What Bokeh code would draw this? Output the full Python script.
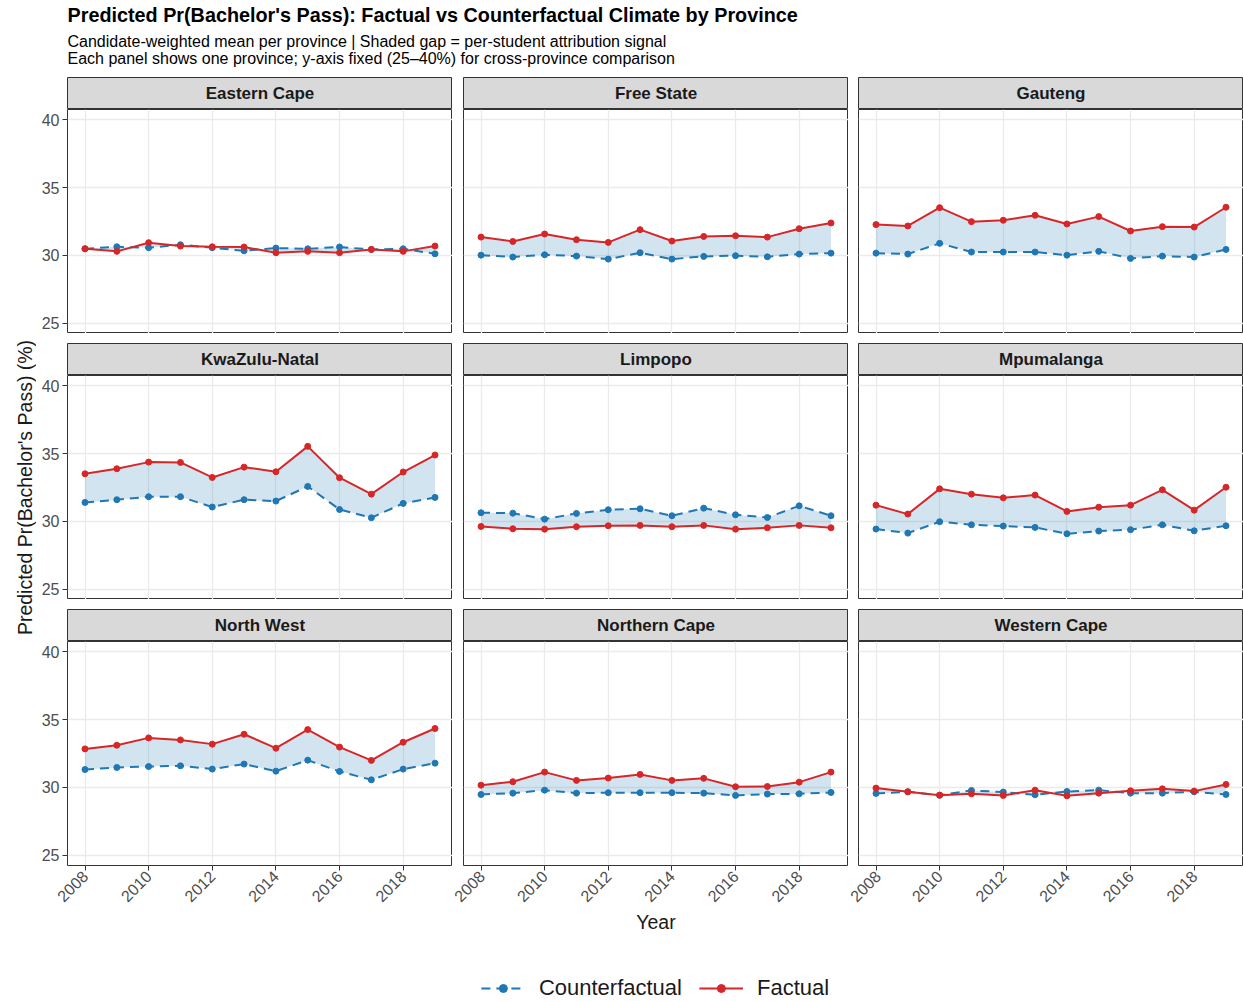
import math

from bokeh.plotting import figure
from bokeh.layouts import column, row
from bokeh.models import (Range1d, FixedTicker, Label, Legend, LegendItem,
                          ColumnDataSource, Spacer)
from bokeh.embed import file_html
from bokeh.resources import INLINE

# ---------------------------------------------------------------- data
years = [2008, 2009, 2010, 2011, 2012, 2013, 2014, 2015, 2016, 2017, 2018, 2019]

provinces = ["Eastern Cape", "Free State", "Gauteng",
             "KwaZulu-Natal", "Limpopo", "Mpumalanga",
             "North West", "Northern Cape", "Western Cape"]

ec_factual = [30.49, 30.30, 30.94, 30.69, 30.64, 30.62, 30.20, 30.30, 30.20, 30.44, 30.30, 30.69]
ec_counter = [30.49, 30.64, 30.57, 30.79, 30.57, 30.34, 30.54, 30.49, 30.62, 30.44, 30.49, 30.12]

fs_factual = [31.35, 31.03, 31.58, 31.16, 30.96, 31.90, 31.06, 31.40, 31.45, 31.35, 31.97, 32.39]
fs_counter = [30.02, 29.88, 30.05, 29.95, 29.73, 30.20, 29.73, 29.93, 29.98, 29.90, 30.10, 30.17]

gp_factual = [32.27, 32.17, 33.52, 32.49, 32.59, 32.96, 32.32, 32.86, 31.80, 32.12, 32.09, 33.55]
gp_counter = [30.17, 30.10, 30.89, 30.25, 30.25, 30.25, 30.02, 30.30, 29.78, 29.95, 29.88, 30.44]

kzn_factual = [33.51, 33.88, 34.37, 34.35, 33.24, 34.00, 33.66, 35.53, 33.22, 32.01, 33.64, 34.89]
kzn_counter = [31.40, 31.60, 31.82, 31.82, 31.06, 31.60, 31.50, 32.58, 30.88, 30.27, 31.33, 31.77]

lp_factual = [29.63, 29.46, 29.43, 29.61, 29.68, 29.71, 29.61, 29.71, 29.43, 29.53, 29.71, 29.53]
lp_counter = [30.64, 30.61, 30.17, 30.59, 30.86, 30.93, 30.42, 30.98, 30.49, 30.29, 31.15, 30.42]

mp_factual = [31.20, 30.54, 32.40, 32.01, 31.74, 31.94, 30.74, 31.05, 31.20, 32.33, 30.83, 32.52]
mp_counter = [29.44, 29.14, 29.98, 29.75, 29.66, 29.56, 29.09, 29.29, 29.39, 29.75, 29.31, 29.68]

nw_factual = [32.84, 33.11, 33.65, 33.50, 33.19, 33.92, 32.89, 34.26, 32.97, 31.99, 33.33, 34.34]
nw_counter = [31.32, 31.47, 31.54, 31.59, 31.35, 31.72, 31.20, 32.01, 31.18, 30.56, 31.35, 31.79]

nc_factual = [30.17, 30.42, 31.13, 30.52, 30.69, 30.96, 30.52, 30.67, 30.05, 30.07, 30.39, 31.13]
nc_counter = [29.48, 29.58, 29.80, 29.58, 29.61, 29.61, 29.61, 29.58, 29.41, 29.51, 29.53, 29.63]

wc_factual = [29.95, 29.68, 29.43, 29.53, 29.41, 29.80, 29.38, 29.58, 29.75, 29.90, 29.73, 30.22]
wc_counter = [29.56, 29.68, 29.43, 29.78, 29.66, 29.46, 29.70, 29.80, 29.58, 29.58, 29.68, 29.48]

factual_series = [ec_factual, fs_factual, gp_factual, kzn_factual, lp_factual,
                  mp_factual, nw_factual, nc_factual, wc_factual]
counter_series = [ec_counter, fs_counter, gp_counter, kzn_counter, lp_counter,
                  mp_counter, nw_counter, nc_counter, wc_counter]

x_ticks = [2008, 2010, 2012, 2014, 2016, 2018]
y_ticks = [25, 30, 35, 40]

TITLE = "Predicted Pr(Bachelor's Pass): Factual vs Counterfactual Climate by Province"
SUB1 = "Candidate-weighted mean per province | Shaded gap = per-student attribution signal"
SUB2 = "Each panel shows one province; y-axis fixed (25\u201340%) for cross-province comparison"
Y_LABEL = "Predicted Pr(Bachelor's Pass) (%)"
X_LABEL = "Year"

# ---------------------------------------------------------------- style
FONT = "Liberation Sans"
RED = "#d62728"
BLUE = "#1f77b4"
GRID = "#ebebeb"
BORDER = "#333333"
STRIP_FILL = "#d9d9d9"
DASH = "9 6"

W_TOTAL, H_TOTAL = 1243, 1001
HEADER_H = 77
PANEL_LEFT = 67
YLAB_W = 36
FRAME_W, FRAME_H, STRIP_H = 385, 224, 32
LEFT = [PANEL_LEFT - YLAB_W, 11, 10]
GAP = 10
BOTTOM = 110
GRID_H = 3 * (STRIP_H + FRAME_H) + 2 * GAP


def base_fig(**kw):
    p = figure(toolbar_location=None, output_backend="svg", **kw)
    p.border_fill_color = "white"
    return p


def make_strip(name, r, c):
    p = base_fig(frame_width=FRAME_W, frame_height=STRIP_H,
                 x_range=Range1d(0, 1), y_range=Range1d(0, 1),
                 x_axis_location=None, y_axis_location=None,
                 min_border_left=LEFT[c], min_border_right=0,
                 min_border_top=0 if r == 0 else GAP, min_border_bottom=0)
    p.grid.visible = False
    p.background_fill_color = STRIP_FILL
    p.outline_line_color = BORDER
    p.outline_line_width = 1
    p.add_layout(Label(x=0.5, y=0.5, text=name, text_align="center",
                       text_baseline="middle", text_font=FONT,
                       text_font_size="17px", text_font_style="bold",
                       text_color="#1a1a1a"))
    return p


def style_axis(ax):
    ax.axis_line_color = None
    ax.major_tick_in = 0
    ax.major_tick_out = 5
    ax.major_tick_line_color = BORDER
    ax.minor_tick_line_color = None
    ax.major_label_text_font = FONT
    ax.major_label_text_font_size = "16px"
    ax.major_label_text_color = "#4d4d4d"
    ax.major_label_standoff = 3


sources = []


def make_panel(idx):
    r, c = divmod(idx, 3)
    bottom = r == 2
    p = base_fig(frame_width=FRAME_W, frame_height=FRAME_H,
                 x_range=Range1d(2007.45, 2019.55), y_range=Range1d(24.25, 40.75),
                 x_axis_location="below" if bottom else None,
                 y_axis_location="left" if c == 0 else None,
                 min_border_left=LEFT[c], min_border_right=0,
                 min_border_top=0, min_border_bottom=BOTTOM if bottom else 0)
    p.background_fill_color = "white"
    p.outline_line_color = BORDER
    p.outline_line_width = 1

    p.xgrid.ticker = FixedTicker(ticks=x_ticks)
    p.ygrid.ticker = FixedTicker(ticks=y_ticks)
    for g in (p.xgrid, p.ygrid):
        g.grid_line_color = GRID
        g.grid_line_width = 1.3
        g.minor_grid_line_color = None

    src = ColumnDataSource(dict(year=years, factual=factual_series[idx],
                                counter=counter_series[idx]))
    sources.append(src)
    p.varea(x="year", y1="counter", y2="factual", source=src,
            fill_color=BLUE, fill_alpha=0.2)
    p.line("year", "counter", source=src, line_color=BLUE, line_width=2,
           line_dash=DASH)
    p.scatter("year", "counter", source=src, size=6, color=BLUE)
    p.line("year", "factual", source=src, line_color=RED, line_width=2)
    p.scatter("year", "factual", source=src, size=6, color=RED)

    for ax in p.yaxis:
        ax.ticker = FixedTicker(ticks=y_ticks)
        style_axis(ax)

    for ax in p.xaxis:
        ax.ticker = FixedTicker(ticks=x_ticks)
        style_axis(ax)
        ax.major_label_orientation = math.pi / 4
        if c == 1:
            ax.axis_label = X_LABEL
            ax.axis_label_text_font = FONT
            ax.axis_label_text_font_size = "19.5px"
            ax.axis_label_text_font_style = "normal"
            ax.axis_label_text_color = "#1a1a1a"
            ax.axis_label_standoff = 1
    return p


# ---------------------------------------------------------------- header
hdr = base_fig(width=W_TOTAL, height=HEADER_H,
               x_range=Range1d(0, W_TOTAL), y_range=Range1d(HEADER_H, 0),
               x_axis_location=None, y_axis_location=None, min_border=0)
hdr.grid.visible = False
hdr.outline_line_color = None
hdr.add_layout(Label(x=PANEL_LEFT, y=14, text=TITLE, text_baseline="middle",
                     text_font=FONT, text_font_size="19.8px",
                     text_font_style="bold", text_color="black"))
hdr.add_layout(Label(x=PANEL_LEFT, y=41, text=SUB1, text_baseline="middle",
                     text_font=FONT, text_font_size="16px", text_color="black"))
hdr.add_layout(Label(x=PANEL_LEFT, y=58, text=SUB2, text_baseline="middle",
                     text_font=FONT, text_font_size="16px", text_color="black"))

# ---------------------------------------------------------------- shared y label
ylab = base_fig(width=YLAB_W, height=GRID_H,
                x_range=Range1d(0, YLAB_W), y_range=Range1d(GRID_H, 0),
                x_axis_location=None, y_axis_location=None, min_border=0)
ylab.grid.visible = False
ylab.outline_line_color = None
ylab.add_layout(Label(x=24, y=410, text=Y_LABEL, angle=math.pi / 2,
                      text_align="center", text_baseline="middle",
                      text_font=FONT, text_font_size="19.5px",
                      text_color="#1a1a1a"))

# ---------------------------------------------------------------- facets
grid_rows = []
for r in range(3):
    strips = [make_strip(provinces[3 * r + c], r, c) for c in range(3)]
    panels = [make_panel(3 * r + c) for c in range(3)]
    grid_rows.append(row(*strips))
    grid_rows.append(row(*panels))

# ---------------------------------------------------------------- legend
leg_h = H_TOTAL - HEADER_H - GRID_H - BOTTOM
leg = base_fig(width=W_TOTAL - PANEL_LEFT, height=leg_h,
               x_range=Range1d(0, 1), y_range=Range1d(0, 1),
               x_axis_location=None, y_axis_location=None, min_border=0)
leg.grid.visible = False
leg.outline_line_color = None
# legend keys reuse one province's series; the key figure's range keeps them out of view
key_src = sources[0]
cf_line = leg.line("year", "counter", source=key_src, line_color=BLUE,
                   line_width=2, line_dash=DASH)
cf_pt = leg.scatter("year", "counter", source=key_src, size=6, color=BLUE)
f_line = leg.line("year", "factual", source=key_src, line_color=RED, line_width=2)
f_pt = leg.scatter("year", "factual", source=key_src, size=6, color=RED)
legend = Legend(items=[LegendItem(label="Counterfactual", renderers=[cf_line, cf_pt]),
                       LegendItem(label="Factual", renderers=[f_line, f_pt])],
                orientation="horizontal", location="center",
                label_text_font=FONT, label_text_font_size="22px",
                label_text_color="#1a1a1a",
                glyph_width=44, glyph_height=20, label_standoff=14, spacing=17,
                padding=0, margin=0, border_line_color=None,
                background_fill_alpha=0)
leg.add_layout(legend, "center")

layout = column(hdr,
                row(ylab, column(*grid_rows)),
                row(Spacer(width=PANEL_LEFT, height=leg_h), leg))

with open("out.html", "w") as fh:
    fh.write(file_html(layout, INLINE))
